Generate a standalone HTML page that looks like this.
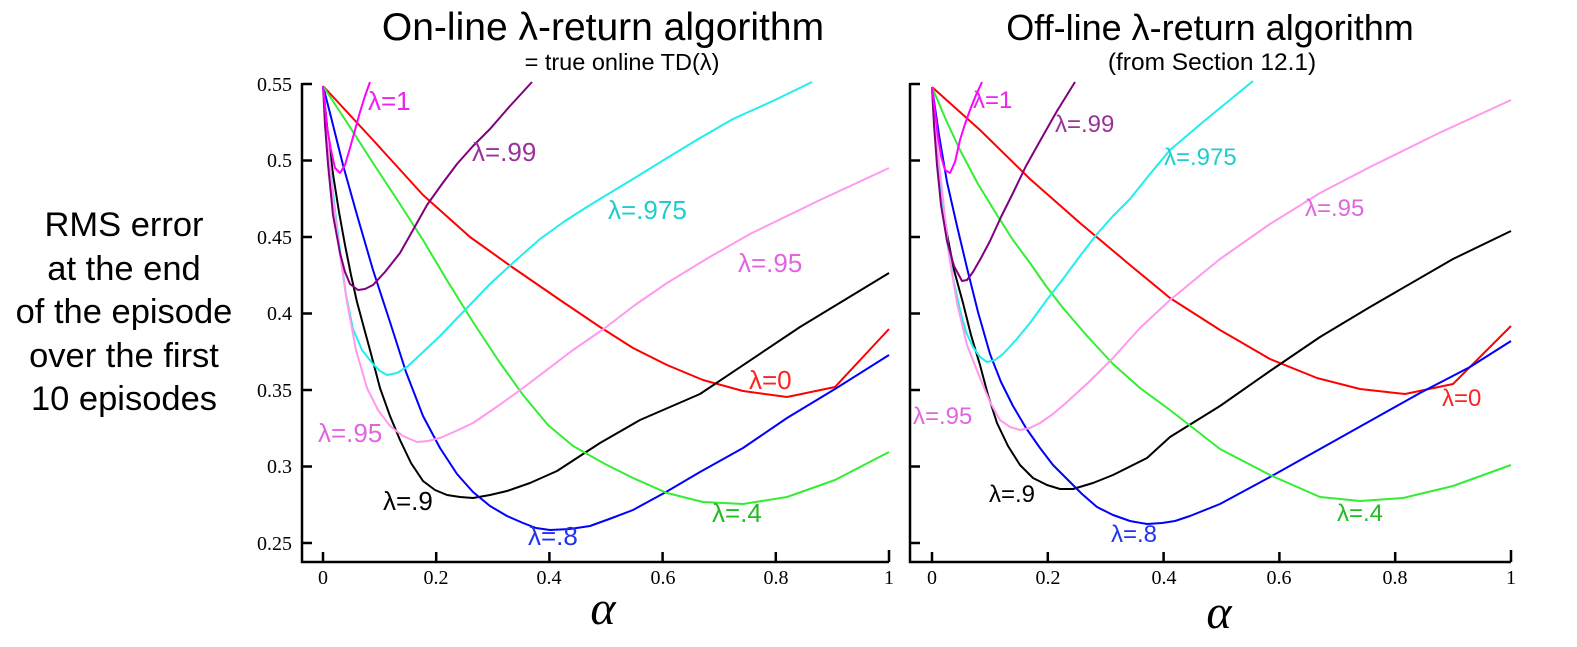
<!DOCTYPE html>
<html><head><meta charset="utf-8"><style>
html,body{margin:0;padding:0;background:#fff;}
svg{display:block;}
.s text{font-family:"Liberation Sans",sans-serif;}
.t text{font-family:"Liberation Serif",serif;font-size:20px;fill:#000;}
.c{fill:none;stroke-width:2;stroke-linejoin:round;}
</style></head><body>
<svg class="s" width="1577" height="647" viewBox="0 0 1577 647" xmlns="http://www.w3.org/2000/svg">
<!-- titles -->
<text x="603" y="40" font-size="39" text-anchor="middle">On-line λ-return algorithm</text>
<text x="622" y="70" font-size="23.5" text-anchor="middle">= true online TD(λ)</text>
<text x="1210" y="40" font-size="36" text-anchor="middle">Off-line λ-return algorithm</text>
<text x="1212" y="70" font-size="24.5" text-anchor="middle">(from Section 12.1)</text>
<!-- y label -->
<g font-size="34.5" text-anchor="middle">
<text x="124" y="236">RMS error</text>
<text x="124" y="280">at the end</text>
<text x="124" y="323">of the episode</text>
<text x="124" y="367">over the first</text>
<text x="124" y="410">10 episodes</text>
</g>
<!-- axes -->
<g stroke="#000" stroke-width="2.5" fill="none">
<path d="M302,83 V562 H889"/>
<path d="M302,84 h10 M302,160.5 h10 M302,237 h10 M302,313.5 h10 M302,390 h10 M302,466.5 h10 M302,543 h10"/>
<path d="M323,562 v-10 M436.2,562 v-10 M549.4,562 v-10 M662.6,562 v-10 M775.8,562 v-10 M889,562 v-12"/>
<path d="M910,83 V562 H1511"/>
<path d="M910,84 h10 M910,160.5 h10 M910,237 h10 M910,313.5 h10 M910,390 h10 M910,466.5 h10 M910,543 h10"/>
<path d="M932,562 v-10 M1047.8,562 v-10 M1163.6,562 v-10 M1279.4,562 v-10 M1395.2,562 v-10 M1511,562 v-12"/>
</g>
<g class="t" text-anchor="end">
<text x="292" y="91">0.55</text><text x="292" y="167">0.5</text><text x="292" y="244">0.45</text>
<text x="292" y="320">0.4</text><text x="292" y="397">0.35</text><text x="292" y="473">0.3</text><text x="292" y="550">0.25</text>
</g>
<g class="t" text-anchor="middle">
<text x="323" y="584">0</text><text x="436" y="584">0.2</text><text x="549" y="584">0.4</text><text x="663" y="584">0.6</text><text x="776" y="584">0.8</text><text x="889" y="584">1</text>
<text x="932" y="584">0</text><text x="1048" y="584">0.2</text><text x="1164" y="584">0.4</text><text x="1279" y="584">0.6</text><text x="1395" y="584">0.8</text><text x="1511" y="584">1</text>
</g>
<text x="603" y="624" style="font-family:'Liberation Serif',serif;font-style:italic;font-size:48px" text-anchor="middle">α</text>
<text x="1219" y="628" style="font-family:'Liberation Serif',serif;font-style:italic;font-size:48px" text-anchor="middle">α</text>

<!-- left curves -->
<polyline class="c" stroke="#ff0000" points="323,86 373,140 423,195 470,237 512,267 560,300 600,327 633,348 667,365 703,380 743,391 787,397 835,387 889,329"/>
<polyline class="c" stroke="#000" points="323,86 328,135 333,174 339,212 345,245 351,275 357,302 364,328 370,350 380,388 390,416 400,440 411,463 423,481 435,490 447,495 460,497 473,498 490,495 507,491 530,483 557,471 600,443 640,420 700,394 800,327 889,273"/>
<polyline class="c" stroke="#0000ff" points="323,86 330,113 343,165 357,215 373,270 390,322 406,372 423,416 440,448 457,474 473,492 490,506 507,516 523,523 536,528 550,530 570,529 590,526 612,518 633,510 666,492 700,472 743,448 787,418 835,389 889,355"/>
<polyline class="c" stroke="#33ee33" points="323,86 348,124 373,163 398,201 423,240 448,282 473,322 498,360 523,395 548,425 573,446 605,464 633,478 667,493 703,502 743,504 787,497 835,480 889,452"/>
<polyline class="c" stroke="#22eeee" points="323,86 326,125 330,164 335,210 340,250 346,295 353,329 362,350 373,364 380,371 387,375 397,373 407,367 422,353 440,336 465,310 490,284 515,261 540,239 565,221 590,205 633,179 667,158 700,138 733,119 775,100 812,82"/>
<polyline class="c" stroke="#ff99ee" points="323,86 328,145 333,198 340,255 347,302 356,350 367,388 378,410 390,426 403,436 417,442 428,441 440,438 456,431 473,423 498,406 523,388 548,369 573,350 605,328 635,305 667,283 708,258 750,234 820,200 889,168"/>
<polyline class="c" stroke="#800080" points="323,86 325,125 328,164 333,215 340,253 345,272 350,284 358,290 365,289 373,285 385,272 400,253 413,230 427,205 442,184 457,164 473,146 490,129 510,106 532,82"/>
<polyline class="c" stroke="#ff00ff" points="323,86 325,107 327,127 331,150 335,168 340,173 345,165 350,148 355,130 360,112 365,96 370,82"/>

<!-- right curves -->
<polyline class="c" stroke="#ff0000" points="932,87 980,130 1030,179 1080,223 1130,265 1170,298 1220,330 1270,359 1317,378 1360,389 1405,394 1453,384 1511,326"/>
<polyline class="c" stroke="#000" points="932,87 934,118 937,148 941,190 947,234 954,270 963,303 971,335 980,365 988,395 997,423 1008,446 1020,465 1033,478 1047,485 1060,489 1073,489 1093,483 1113,475 1147,458 1170,437 1220,406 1270,371 1320,337 1370,307 1453,259 1511,231"/>
<polyline class="c" stroke="#0000ff" points="932,87 939,135 947,182 957,226 967,268 978,312 990,354 1001,382 1013,406 1026,428 1040,448 1053,465 1067,479 1082,494 1097,507 1113,515 1130,521 1147,524 1162,523 1175,521 1190,516 1220,504 1270,477 1320,449 1370,421 1420,393 1470,367 1511,341"/>
<polyline class="c" stroke="#33ee33" points="932,87 946,120 960,150 978,184 997,215 1013,240 1030,263 1046,286 1063,308 1088,337 1113,364 1140,388 1170,410 1220,449 1270,475 1320,497 1360,501 1403,498 1453,486 1511,465"/>
<polyline class="c" stroke="#22eeee" points="932,87 935,126 938,165 942,205 947,241 953,278 960,310 966,332 973,347 980,357 987,362 995,360 1003,354 1016,340 1030,323 1046,301 1063,279 1080,256 1097,234 1113,216 1130,199 1150,174 1170,150 1203,122 1253,81"/>
<polyline class="c" stroke="#ff99ee" points="932,87 937,145 943,199 949,255 957,303 967,345 980,378 990,402 1000,420 1010,427 1020,430 1030,428 1040,423 1053,414 1067,402 1090,381 1113,358 1140,328 1170,300 1220,259 1270,224 1320,193 1370,167 1437,134 1511,100"/>
<polyline class="c" stroke="#800080" points="932,87 934,125 937,165 941,205 947,241 954,266 962,281 967,280 973,272 981,258 990,241 1001,217 1013,193 1026,166 1040,141 1057,111 1075,82"/>
<polyline class="c" stroke="#ff00ff" points="932,87 935,112 938,137 941,156 945,170 950,173 955,162 960,140 965,124 970,110 976,95 982,82"/>

<!-- left labels -->
<g font-size="26">
<text x="368" y="110" fill="#ee22ee">λ=1</text>
<text x="472" y="161" fill="#993399">λ=.99</text>
<text x="608" y="219" fill="#22cccc">λ=.975</text>
<text x="738" y="272" fill="#e066e0">λ=.95</text>
<text x="749" y="389" fill="#ff2222">λ=0</text>
<text x="318" y="442" fill="#e066e0">λ=.95</text>
<text x="383" y="510" fill="#000">λ=.9</text>
<text x="712" y="522" fill="#22bb22">λ=.4</text>
<text x="528" y="545" fill="#2233ee">λ=.8</text>
</g>
<g font-size="24">
<text x="973" y="108" fill="#ee22ee">λ=1</text>
<text x="1055" y="132" fill="#993399">λ=.99</text>
<text x="1164" y="165" fill="#22cccc">λ=.975</text>
<text x="1305" y="216" fill="#e066e0">λ=.95</text>
<text x="1442" y="406" fill="#ff2222">λ=0</text>
<text x="913" y="424" fill="#e066e0">λ=.95</text>
<text x="989" y="502" fill="#000">λ=.9</text>
<text x="1337" y="521" fill="#22bb22">λ=.4</text>
<text x="1111" y="542" fill="#2233ee">λ=.8</text>
</g>
</svg>
</body></html>
